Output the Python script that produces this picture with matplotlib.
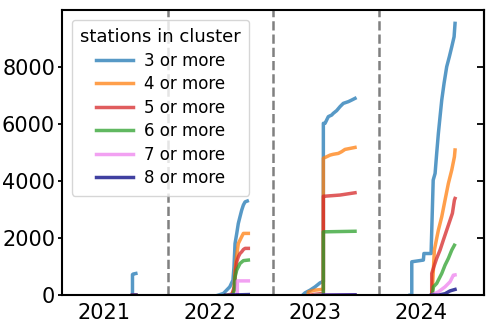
import matplotlib
matplotlib.use('Agg')
import matplotlib.pyplot as plt
import numpy as np

# x is a season position: the panel for year Y spans [Y - 0.4, Y + 0.6]
years = [2021, 2022, 2023, 2024]
labels = ['3 or more', '4 or more', '5 or more', '6 or more', '7 or more', '8 or more']
colors = ['tab:blue', 'tab:orange', 'tab:red', 'tab:green', 'violet', 'navy']

nan = np.nan

x3 = [2021.268, 2021.268, 2021.275, 2021.30, nan,
      2022.08, 2022.13, 2022.16, 2022.19, 2022.22, 2022.23, 2022.24, 2022.256, 2022.271,
      2022.287, 2022.303, 2022.319, 2022.335, 2022.356, nan,
      2022.88, 2022.903, 2022.951, 2022.998, 2023.045, 2023.067, 2023.077, 2023.077, 2023.093,
      2023.124, 2023.156, 2023.171, 2023.203, 2023.235, 2023.266, 2023.314, 2023.345, 2023.377, nan,
      2023.899, 2023.915, 2023.915, 2024.025, 2024.03, 2024.098, 2024.118, 2024.136, 2024.151,
      2024.167, 2024.183, 2024.199, 2024.221, 2024.246, 2024.271, 2024.294, 2024.316, 2024.325]
y3 = [0, 720, 740, 760, nan,
      0, 60, 175, 290, 525, 990, 1810, 2160, 2515,
      2750, 2980, 3160, 3270, 3300, nan,
      0, 80, 175, 290, 430, 465, 465, 6025, 6025,
      6260, 6315, 6375, 6470, 6610, 6725, 6785, 6840, 6900, nan,
      0, 0, 1170, 1230, 1460, 1460, 4035, 4270, 4970,
      5670, 6260, 6840, 7430, 8010, 8360, 8710, 9060, 9530]

x4 = [2021.268, 2021.30, nan,
      2022.161, 2022.208, 2022.23, 2022.24, 2022.256, 2022.271, 2022.287, 2022.303, 2022.319, 2022.366, nan,
      2022.93, 2022.935, 2022.998, 2023.061, 2023.077, 2023.077, 2023.109, 2023.14, 2023.171,
      2023.219, 2023.25, 2023.282, 2023.33, 2023.377, nan,
      2024.10, 2024.11, 2024.129, 2024.151, 2024.167, 2024.199, 2024.23, 2024.262, 2024.294,
      2024.319, 2024.325]
y4 = [0, 0, nan,
      0, 35, 175, 880, 1400, 1810, 1930, 2050, 2165, 2165, nan,
      0, 115, 175, 200, 200, 4800, 4855, 4910, 4940,
      4970, 5030, 5110, 5145, 5180, nan,
      0, 175, 1580, 1990, 2280, 2750, 3330, 3920, 4390,
      4850, 5090]

x5 = [2021.268, 2021.30, nan,
      2022.208, 2022.233, 2022.246, 2022.256, 2022.271, 2022.287, 2022.303, 2022.319, 2022.335, 2022.366, nan,
      2022.95, 2023.0, 2023.077, 2023.077, 2023.093, 2023.235, 2023.377, nan,
      2024.104, 2024.104, 2024.129, 2024.151, 2024.183, 2024.214, 2024.246, 2024.278, 2024.30,
      2024.319, 2024.325]
y5 = [0, 0, nan,
      0, 290, 880, 1170, 1345, 1460, 1520, 1600, 1640, 1640, nan,
      0, 30, 60, 3470, 3470, 3510, 3590, nan,
      0, 760, 1050, 1290, 1580, 1930, 2280, 2630, 2870,
      3330, 3390]

x6 = [2021.268, 2021.30, nan,
      2022.218, 2022.233, 2022.24, 2022.256, 2022.271, 2022.287, 2022.319, 2022.366, nan,
      2023.0, 2023.077, 2023.077, 2023.377, nan,
      2024.11, 2024.12, 2024.151, 2024.199, 2024.23, 2024.262, 2024.294, 2024.319]
y6 = [0, 0, nan,
      0, 175, 640, 880, 990, 1110, 1210, 1230, nan,
      0, 20, 2220, 2240, nan,
      0, 290, 410, 760, 1050, 1290, 1580, 1750]

x7 = [2021.268, 2021.30, nan,
      2022.20, 2022.262, 2022.262, 2022.366, nan,
      2023.0, 2023.377, nan,
      2024.10, 2024.167, 2024.23, 2024.278, 2024.309, 2024.325]
y7 = [0, 0, nan,
      0, 0, 500, 500, nan,
      0, 10, nan,
      0, 115, 290, 470, 700, 710]

x8 = [2021.268, 2021.30, nan,
      2022.15, 2022.366, nan,
      2023.077, 2023.377, nan,
      2024.10, 2024.167, 2024.23, 2024.278, 2024.325]
y8 = [0, 0, nan,
      0, 20, nan,
      0, 10, nan,
      0, 0, 50, 150, 200]

series_x = [x3, x4, x5, x6, x7, x8]
series_y = [y3, y4, y5, y6, y7, y8]

fig = plt.figure(figsize=(4.98, 3.32), dpi=100)
ax = fig.add_axes([0.1245, 0.111, 0.8475, 0.859])

for xs, ys, c, lab in zip(series_x, series_y, colors, labels):
    ax.plot(xs, ys, color=c, alpha=0.75, lw=2.5, label=lab)

for y in years[:-1]:
    ax.axvline(y + 0.6, color='gray', ls='--', lw=1.8)

ax.set_xlim(years[0] - 0.4, years[-1] + 0.6)
ax.set_ylim(0, 10000)
ax.set_xticks(years)
ax.set_xticklabels([str(y) for y in years])
ax.set_yticks([0, 2000, 4000, 6000, 8000])
ax.tick_params(axis='x', length=0, labelsize=15, pad=6)
ax.tick_params(axis='y', direction='out', length=3, width=1.3, labelsize=15, pad=2)
sec = ax.secondary_yaxis('right')
sec.set_yticks([0, 2000, 4000, 6000, 8000])
sec.tick_params(direction='in', length=5, width=1.3, labelright=False)
for s in list(ax.spines.values()) + list(sec.spines.values()):
    s.set_linewidth(1.5)

ax.legend(title='stations in cluster', loc='upper left', fontsize=12,
          title_fontsize=13, handlelength=2.2, borderaxespad=0.6,
          labelspacing=0.33, borderpad=0.5, handletextpad=0.7)

plt.savefig('out.png', dpi=100)
